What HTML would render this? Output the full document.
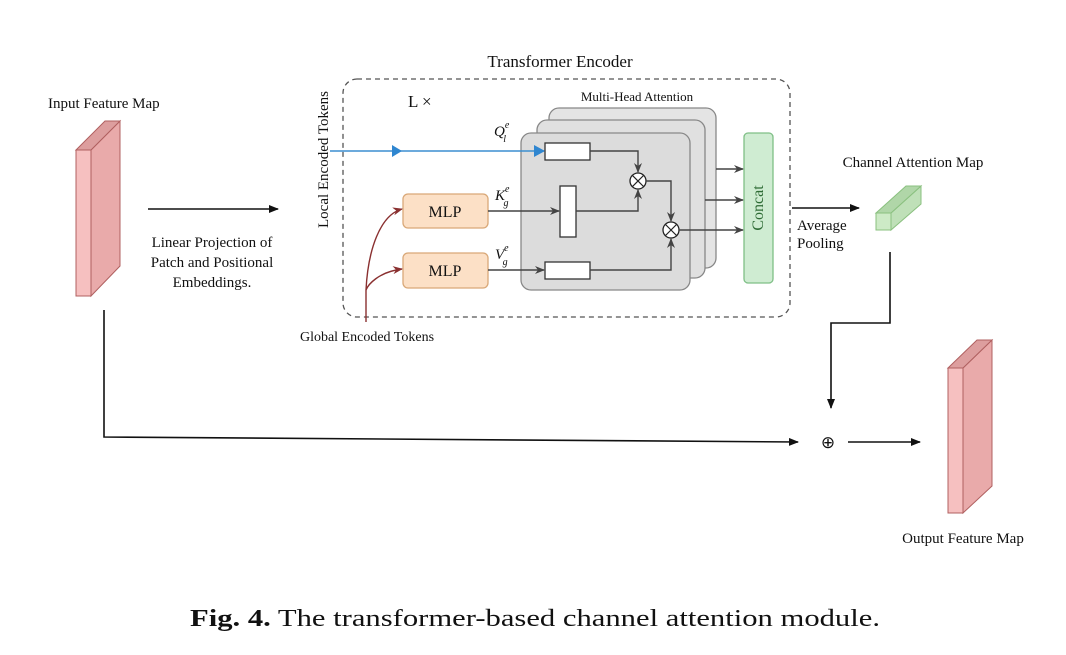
<!DOCTYPE html>
<html><head><meta charset="utf-8"><style>
html,body{margin:0;padding:0;background:#fff;}
svg{display:block;}
text{font-family:"Liberation Serif",serif;fill:#111;}
</style></head><body>
<svg width="1066" height="655" viewBox="0 0 1066 655" xmlns="http://www.w3.org/2000/svg">
<defs>
<marker id="ab" markerWidth="10" markerHeight="8" refX="9" refY="4" orient="auto" markerUnits="userSpaceOnUse"><path d="M0,0 L10,4 L0,8 z" fill="#111"/></marker>
<marker id="ag" markerWidth="10" markerHeight="8" refX="9" refY="4" orient="auto" markerUnits="userSpaceOnUse"><path d="M0,0 L10,4 L0,8 L3,4 z" fill="#444"/></marker>
<marker id="ar" markerWidth="10" markerHeight="8" refX="9" refY="4" orient="auto" markerUnits="userSpaceOnUse"><path d="M0,0 L10,4 L0,8 L3,4 z" fill="#8a3030"/></marker>
</defs>
<rect width="1066" height="655" fill="#fff"/>

<text x="48" y="108" font-size="15">Input Feature Map</text>
<polygon points="91,150 120,121 120,266 91,296" fill="#e9aaaa" stroke="#b06060"/>
<polygon points="76,150 105,121 120,121 91,150" fill="#dd9e9e" stroke="#b06060"/>
<rect x="76" y="150" width="15" height="146" fill="#f6c0c0" stroke="#b06060"/>

<line x1="148" y1="209" x2="278" y2="209" stroke="#111" stroke-width="1.6" marker-end="url(#ab)"/>
<text x="212" y="247" font-size="15" text-anchor="middle">Linear Projection of</text>
<text x="212" y="267" font-size="15" text-anchor="middle">Patch and Positional</text>
<text x="212" y="287" font-size="15" text-anchor="middle">Embeddings.</text>

<text x="560" y="67" font-size="17" text-anchor="middle">Transformer Encoder</text>
<rect x="343" y="79" width="447" height="238" rx="14" fill="none" stroke="#555" stroke-dasharray="5,4" stroke-width="1.3"/>
<text x="328" y="228" font-size="15" transform="rotate(-90 328 228)">Local Encoded Tokens</text>
<text x="408" y="107" font-size="17">L ×</text>
<text x="637" y="101" font-size="13" text-anchor="middle">Multi-Head Attention</text>

<rect x="549" y="108" width="167" height="160" rx="10" fill="#e4e4e4" stroke="#888" stroke-width="1.3"/>
<rect x="537" y="120" width="168" height="158" rx="10" fill="#e0e0e0" stroke="#888" stroke-width="1.3"/>
<rect x="521" y="133" width="169" height="157" rx="10" fill="#dcdcdc" stroke="#888" stroke-width="1.3"/>

<rect x="744" y="133" width="29" height="150" rx="4" fill="#cfecd2" stroke="#7fbf86" stroke-width="1.3"/>
<text x="763" y="208" font-size="16" text-anchor="middle" transform="rotate(-90 763 208)" style="fill:#2e6b35">Concat</text>

<line x1="330" y1="151" x2="544" y2="151" stroke="#3b8ed0" stroke-width="1.6"/>
<path d="M392,145 L402,151 L392,157 z" fill="#2f86d0"/>
<path d="M534,145 L545,151 L534,157 z" fill="#2f86d0"/>
<text x="494" y="136" font-size="15" font-style="italic">Q<tspan font-size="10" dy="-8">e</tspan><tspan font-size="10" dx="-6" dy="14">l</tspan></text>
<rect x="545" y="143" width="45" height="17" fill="#fff" stroke="#333" stroke-width="1.3"/>

<rect x="403" y="194" width="85" height="34" rx="5" fill="#fce0c6" stroke="#d9a878" stroke-width="1.3"/>
<text x="445" y="217" font-size="16" text-anchor="middle">MLP</text>
<rect x="403" y="253" width="85" height="35" rx="5" fill="#fce0c6" stroke="#d9a878" stroke-width="1.3"/>
<text x="445" y="276" font-size="16" text-anchor="middle">MLP</text>
<text x="495" y="200" font-size="15" font-style="italic">K<tspan font-size="10" dy="-8">e</tspan><tspan font-size="10" dx="-6" dy="14">g</tspan></text>
<text x="495" y="259" font-size="15" font-style="italic">V<tspan font-size="10" dy="-8">e</tspan><tspan font-size="10" dx="-6" dy="14">g</tspan></text>

<line x1="488" y1="211" x2="559" y2="211" stroke="#444" stroke-width="1.4" marker-end="url(#ag)"/>
<rect x="560" y="186" width="16" height="51" fill="#fff" stroke="#333" stroke-width="1.3"/>
<line x1="488" y1="270" x2="544" y2="270" stroke="#444" stroke-width="1.4" marker-end="url(#ag)"/>
<rect x="545" y="262" width="45" height="17" fill="#fff" stroke="#333" stroke-width="1.3"/>

<path d="M366,290 C368,250 380,215 402,209" fill="none" stroke="#8a3030" stroke-width="1.4" marker-end="url(#ar)"/>
<path d="M366,290 C368,285 378,272 402,269" fill="none" stroke="#8a3030" stroke-width="1.4" marker-end="url(#ar)"/>
<line x1="366" y1="290" x2="366" y2="322" stroke="#8a3030" stroke-width="1.4"/>
<text x="367" y="341" font-size="14" text-anchor="middle">Global Encoded Tokens</text>

<path d="M590,151 L638,151 L638,172" fill="none" stroke="#444" stroke-width="1.4" marker-end="url(#ag)"/>
<path d="M576,211 L638,211 L638,190" fill="none" stroke="#444" stroke-width="1.4" marker-end="url(#ag)"/>
<circle cx="638" cy="181" r="8" fill="#fff" stroke="#222" stroke-width="1.3"/>
<path d="M632.5,175.5 L643.5,186.5 M643.5,175.5 L632.5,186.5" stroke="#222" stroke-width="1.2"/>
<path d="M646,181 L671,181 L671,221" fill="none" stroke="#444" stroke-width="1.4" marker-end="url(#ag)"/>
<path d="M590,270 L671,270 L671,239" fill="none" stroke="#444" stroke-width="1.4" marker-end="url(#ag)"/>
<circle cx="671" cy="230" r="8" fill="#fff" stroke="#222" stroke-width="1.3"/>
<path d="M665.5,224.5 L676.5,235.5 M676.5,224.5 L665.5,235.5" stroke="#222" stroke-width="1.2"/>
<line x1="679" y1="230" x2="743" y2="230" stroke="#444" stroke-width="1.4" marker-end="url(#ag)"/>
<line x1="716" y1="169" x2="743" y2="169" stroke="#444" stroke-width="1.4" marker-end="url(#ag)"/>
<line x1="705" y1="200" x2="743" y2="200" stroke="#444" stroke-width="1.4" marker-end="url(#ag)"/>

<line x1="792" y1="208" x2="859" y2="208" stroke="#111" stroke-width="1.6" marker-end="url(#ab)"/>
<text x="797" y="230" font-size="15">Average</text>
<text x="797" y="248" font-size="15">Pooling</text>
<text x="913" y="167" font-size="15" text-anchor="middle">Channel Attention Map</text>
<polygon points="891,213 921,186 921,204 891,230" fill="#bfe0b8" stroke="#8ac07f"/>
<polygon points="876,213 906,186 921,186 891,213" fill="#b0d6a8" stroke="#8ac07f"/>
<rect x="876" y="213" width="15" height="17" fill="#cdeac6" stroke="#8ac07f"/>

<path d="M890,252 L890,323 L831,323 L831,408" fill="none" stroke="#111" stroke-width="1.6" marker-end="url(#ab)"/>
<path d="M104,310 L104,437 L798,442" fill="none" stroke="#111" stroke-width="1.6" marker-end="url(#ab)"/>
<text x="828" y="448" font-size="17" text-anchor="middle">⊕</text>
<line x1="848" y1="442" x2="920" y2="442" stroke="#111" stroke-width="1.6" marker-end="url(#ab)"/>

<polygon points="963,368 992,340 992,486 963,513" fill="#e9aaaa" stroke="#b06060"/>
<polygon points="948,368 977,340 992,340 963,368" fill="#dd9e9e" stroke="#b06060"/>
<rect x="948" y="368" width="15" height="145" fill="#f6c0c0" stroke="#b06060"/>
<text x="963" y="543" font-size="15" text-anchor="middle">Output Feature Map</text>

<text x="190" y="626" font-size="24" textLength="690" lengthAdjust="spacingAndGlyphs"><tspan font-weight="bold">Fig. 4.</tspan> The transformer-based channel attention module.</text>
</svg>
</body></html>
